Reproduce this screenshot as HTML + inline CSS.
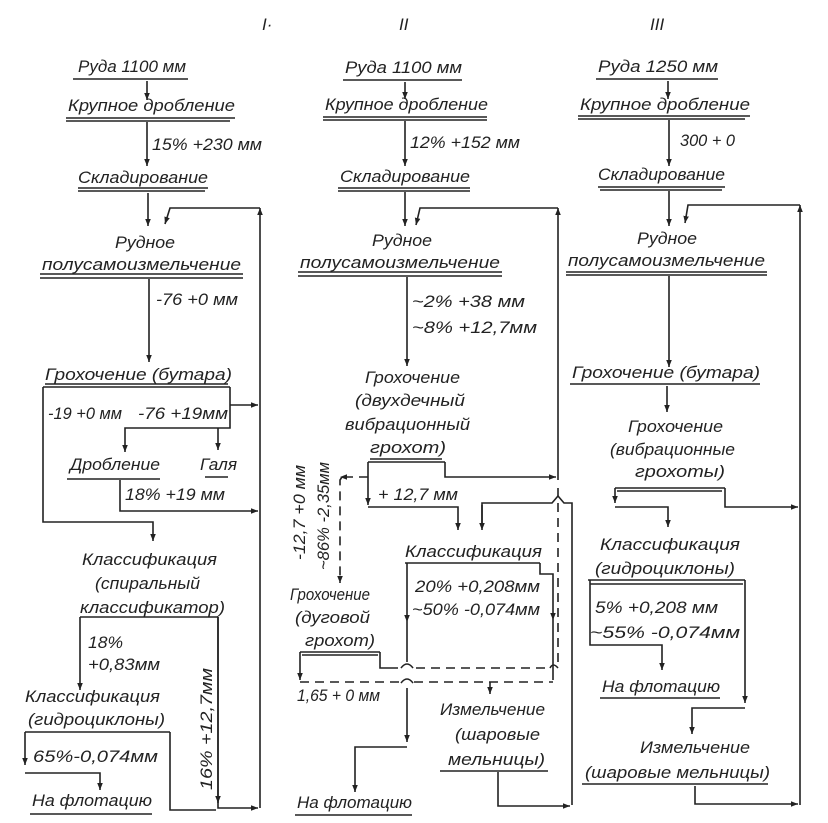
<!DOCTYPE html>
<html><head><meta charset="utf-8"><style>
html,body{margin:0;padding:0;background:#fff;}
svg{display:block}
text{font-family:"Liberation Sans Narrow","Liberation Sans","DejaVu Sans",sans-serif;font-style:italic;font-size:17px;fill:#222;}
line,polyline,path{stroke:#222;stroke-width:1.6;fill:none;}
.d{stroke-dasharray:9,6;}
</style></head><body>
<svg width="828" height="823" viewBox="0 0 828 823" xmlns="http://www.w3.org/2000/svg">
<defs>
<marker id="a" viewBox="0 0 10 10" refX="10" refY="5" markerWidth="7" markerHeight="7" orient="auto-start-reverse" markerUnits="userSpaceOnUse"><path d="M0,1 L10,5 L0,9 Z" style="fill:#222;stroke:none"/></marker>
</defs>

<!-- headers -->
<text x="262" y="30" font-size="20">I·</text>
<text x="399" y="30" font-size="20">II</text>
<text x="650" y="30" font-size="20">III</text>

<!-- ================= COLUMN I ================= -->
<text x="78" y="72" textLength="108" lengthAdjust="spacingAndGlyphs">Руда 1100 мм</text>
<line x1="73" y1="79" x2="188" y2="79"/>
<line x1="147" y1="81" x2="147" y2="100" marker-end="url(#a)"/>
<text x="68" y="111" textLength="167" lengthAdjust="spacingAndGlyphs">Крупное дробление</text>
<line x1="66" y1="118" x2="235" y2="118"/><line x1="66" y1="121" x2="230" y2="121"/>
<line x1="147" y1="122" x2="147" y2="166" marker-end="url(#a)"/>
<text x="152" y="150" textLength="110" lengthAdjust="spacingAndGlyphs">15% +230 мм</text>
<text x="78" y="183" textLength="130" lengthAdjust="spacingAndGlyphs">Складирование</text>
<line x1="78" y1="188" x2="208" y2="188"/><line x1="78" y1="191" x2="205" y2="191"/>
<line x1="148" y1="193" x2="148" y2="226" marker-end="url(#a)"/>
<polyline points="260,808 260,208" marker-end="url(#a)"/>
<polyline points="260,208 170,208 165,224" marker-end="url(#a)"/>
<text x="115" y="248" textLength="60" lengthAdjust="spacingAndGlyphs">Рудное</text>
<text x="42" y="270" textLength="199" lengthAdjust="spacingAndGlyphs">полусамоизмельчение</text>
<line x1="40" y1="274" x2="243" y2="274"/><line x1="40" y1="278" x2="243" y2="278"/>
<line x1="149" y1="279" x2="149" y2="362" marker-end="url(#a)"/>
<text x="156" y="305" textLength="82" lengthAdjust="spacingAndGlyphs">-76 +0 мм</text>
<text x="45" y="380" textLength="187" lengthAdjust="spacingAndGlyphs">Грохочение (бутара)</text>
<line x1="43" y1="387" x2="230" y2="387"/><line x1="45" y1="384" x2="228" y2="384"/>
<line x1="230" y1="405" x2="258" y2="405" marker-end="url(#a)"/>
<text x="48" y="419" textLength="74" lengthAdjust="spacingAndGlyphs">-19 +0 мм</text>
<text x="138" y="419" textLength="90" lengthAdjust="spacingAndGlyphs">-76 +19мм</text>
<polyline points="230,387 230,428 125,428 125,452" marker-end="url(#a)"/>
<line x1="218" y1="428" x2="218" y2="450" marker-end="url(#a)"/>
<text x="70" y="470" textLength="90" lengthAdjust="spacingAndGlyphs">Дробление</text>
<line x1="67" y1="479" x2="160" y2="479"/>
<text x="200" y="470" textLength="37" lengthAdjust="spacingAndGlyphs">Галя</text>
<line x1="205" y1="477" x2="228" y2="477"/>
<polyline points="120,480 120,511 258,511" marker-end="url(#a)"/>
<text x="125" y="500" textLength="100" lengthAdjust="spacingAndGlyphs">18% +19 мм</text>
<polyline points="43,387 43,522 153,522 153,541" marker-end="url(#a)"/>
<text x="82" y="565" textLength="135" lengthAdjust="spacingAndGlyphs">Классификация</text>
<text x="95" y="589" textLength="105" lengthAdjust="spacingAndGlyphs">(спиральный</text>
<text x="80" y="613" textLength="145" lengthAdjust="spacingAndGlyphs">классификатор)</text>
<line x1="80" y1="617" x2="218" y2="617"/>
<polyline points="218,617 218,808 258,808" marker-end="url(#a)"/>
<line x1="218" y1="617" x2="218" y2="803" marker-end="url(#a)"/>
<text transform="translate(212,790) rotate(-90)" textLength="122" lengthAdjust="spacingAndGlyphs">16% +12,7мм</text>
<line x1="80" y1="617" x2="80" y2="690" marker-end="url(#a)"/>
<text x="88" y="648" textLength="35" lengthAdjust="spacingAndGlyphs">18%</text>
<text x="88" y="670" textLength="72" lengthAdjust="spacingAndGlyphs">+0,83мм</text>
<text x="25" y="702" textLength="135" lengthAdjust="spacingAndGlyphs">Классификация</text>
<text x="28" y="725" textLength="137" lengthAdjust="spacingAndGlyphs">(гидроциклоны)</text>
<line x1="25" y1="732" x2="170" y2="732"/>
<line x1="25" y1="732" x2="25" y2="765" marker-end="url(#a)"/>
<polyline points="25,773 100,773 100,790" marker-end="url(#a)"/>
<text x="33" y="762" textLength="125" lengthAdjust="spacingAndGlyphs">65%-0,074мм</text>
<polyline points="170,732 170,810 216,810"/>
<text x="32" y="806" textLength="120" lengthAdjust="spacingAndGlyphs">На флотацию</text>
<line x1="30" y1="814" x2="152" y2="814"/>

<!-- ================= COLUMN II ================= -->
<text x="345" y="73" textLength="117" lengthAdjust="spacingAndGlyphs">Руда 1100 мм</text>
<line x1="343" y1="80" x2="462" y2="80"/>
<line x1="405" y1="82" x2="405" y2="99" marker-end="url(#a)"/>
<text x="325" y="110" textLength="163" lengthAdjust="spacingAndGlyphs">Крупное дробление</text>
<line x1="323" y1="117" x2="487" y2="117"/><line x1="323" y1="120" x2="487" y2="120"/>
<line x1="405" y1="121" x2="405" y2="166" marker-end="url(#a)"/>
<text x="410" y="148" textLength="110" lengthAdjust="spacingAndGlyphs">12% +152 мм</text>
<text x="340" y="182" textLength="130" lengthAdjust="spacingAndGlyphs">Складирование</text>
<line x1="338" y1="188" x2="470" y2="188"/><line x1="338" y1="191" x2="470" y2="191"/>
<line x1="405" y1="192" x2="405" y2="226" marker-end="url(#a)"/>
<line x1="558" y1="480" x2="558" y2="208" marker-end="url(#a)"/>
<polyline points="558,208 420,208 416,225" marker-end="url(#a)"/>
<text x="372" y="246" textLength="60" lengthAdjust="spacingAndGlyphs">Рудное</text>
<text x="300" y="268" textLength="200" lengthAdjust="spacingAndGlyphs">полусамоизмельчение</text>
<line x1="298" y1="272" x2="502" y2="272"/><line x1="298" y1="276" x2="502" y2="276"/>
<line x1="407" y1="277" x2="407" y2="366" marker-end="url(#a)"/>
<text x="412" y="307" textLength="113" lengthAdjust="spacingAndGlyphs">~2% +38 мм</text>
<text x="412" y="333" textLength="125" lengthAdjust="spacingAndGlyphs">~8% +12,7мм</text>
<text x="365" y="383" textLength="95" lengthAdjust="spacingAndGlyphs">Грохочение</text>
<text x="355" y="406" textLength="110" lengthAdjust="spacingAndGlyphs">(двухдечный</text>
<text x="345" y="430" textLength="125" lengthAdjust="spacingAndGlyphs">вибрационный</text>
<text x="370" y="453" textLength="76" lengthAdjust="spacingAndGlyphs">грохот)</text>
<line x1="368" y1="462" x2="445" y2="462"/><line x1="370" y1="459" x2="442" y2="459"/>
<polyline points="445,462 445,477 556,477" marker-end="url(#a)"/>
<line x1="368" y1="462" x2="368" y2="505" marker-end="url(#a)"/>
<polyline points="368,507 458,507 458,530" marker-end="url(#a)"/>
<text x="378" y="500" textLength="80" lengthAdjust="spacingAndGlyphs">+ 12,7 мм</text>
<line class="d" x1="368" y1="477" x2="340" y2="477" marker-end="url(#a)"/>
<polyline class="d" points="342,477 340,480 340,583" marker-end="url(#a)"/>
<text transform="translate(305,560) rotate(-90)" textLength="95" lengthAdjust="spacingAndGlyphs">-12,7 +0 мм</text>
<text transform="translate(329,570) rotate(-90)" textLength="108" lengthAdjust="spacingAndGlyphs">~86% -2,35мм</text>
<!-- right loop -->
<polyline points="482,528 482,503 552,503 558,496 564,503 572,503 572,805"/>
<line x1="482" y1="505" x2="482" y2="530" marker-end="url(#a)"/>
<line class="d" x1="558" y1="488" x2="558" y2="668"/>
<text x="405" y="557" textLength="137" lengthAdjust="spacingAndGlyphs">Классификация</text>
<line x1="405" y1="563" x2="540" y2="563"/>
<polyline points="540,563 540,574 553,574 553,620" marker-end="url(#a)"/>
<polyline points="553,620 553,680"/>
<text x="415" y="592" textLength="125" lengthAdjust="spacingAndGlyphs">20% +0,208мм</text>
<text x="412" y="615" textLength="128" lengthAdjust="spacingAndGlyphs">~50% -0,074мм</text>
<line x1="407" y1="563" x2="407" y2="622" marker-end="url(#a)"/>
<line x1="407" y1="622" x2="407" y2="662"/>
<path d="M401,668 Q407,660 413,668"/>
<path d="M401,683 Q407,675 413,683"/>
<line x1="407" y1="688" x2="407" y2="742" marker-end="url(#a)"/>
<polyline points="407,747 355,747 355,792" marker-end="url(#a)"/>
<text x="290" y="600" textLength="80" lengthAdjust="spacingAndGlyphs">Грохочение</text>
<text x="295" y="623" textLength="75" lengthAdjust="spacingAndGlyphs">(дуговой</text>
<text x="305" y="646" textLength="70" lengthAdjust="spacingAndGlyphs">грохот)</text>
<line x1="300" y1="652" x2="380" y2="652"/><line x1="302" y1="655" x2="378" y2="655"/>
<polyline points="380,652 380,668 398,668"/>
<line class="d" x1="416" y1="668" x2="550" y2="668"/>
<path d="M550,668 Q553,662 558,668"/>
<line x1="300" y1="652" x2="300" y2="680" marker-end="url(#a)"/>
<line class="d" x1="300" y1="682" x2="400" y2="682"/>
<line class="d" x1="414" y1="682" x2="553" y2="682"/>
<line x1="490" y1="682" x2="490" y2="694" marker-end="url(#a)"/>
<text x="297" y="701" textLength="83" lengthAdjust="spacingAndGlyphs">1,65 + 0 мм</text>
<text x="440" y="715" textLength="105" lengthAdjust="spacingAndGlyphs">Измельчение</text>
<text x="455" y="740" textLength="85" lengthAdjust="spacingAndGlyphs">(шаровые</text>
<text x="448" y="765" textLength="97" lengthAdjust="spacingAndGlyphs">мельницы)</text>
<line x1="440" y1="771" x2="548" y2="771"/>
<polyline points="498,772 498,806 570,806" marker-end="url(#a)"/>
<text x="297" y="808" textLength="115" lengthAdjust="spacingAndGlyphs">На флотацию</text>
<line x1="295" y1="815" x2="412" y2="815"/>

<!-- ================= COLUMN III ================= -->
<text x="598" y="72" textLength="120" lengthAdjust="spacingAndGlyphs">Руда 1250 мм</text>
<line x1="596" y1="79" x2="718" y2="79"/>
<line x1="668" y1="81" x2="668" y2="99" marker-end="url(#a)"/>
<text x="580" y="110" textLength="170" lengthAdjust="spacingAndGlyphs">Крупное дробление</text>
<line x1="578" y1="116" x2="750" y2="116"/><line x1="578" y1="119" x2="745" y2="119"/>
<line x1="669" y1="120" x2="669" y2="166" marker-end="url(#a)"/>
<text x="680" y="146" textLength="55" lengthAdjust="spacingAndGlyphs">300 + 0</text>
<text x="598" y="180" textLength="127" lengthAdjust="spacingAndGlyphs">Складирование</text>
<line x1="598" y1="187" x2="725" y2="187"/><line x1="600" y1="190" x2="722" y2="190"/>
<line x1="669" y1="191" x2="669" y2="226" marker-end="url(#a)"/>
<line x1="800" y1="805" x2="800" y2="205" marker-end="url(#a)"/>
<polyline points="800,205 688,205 685,223" marker-end="url(#a)"/>
<text x="637" y="244" textLength="60" lengthAdjust="spacingAndGlyphs">Рудное</text>
<text x="568" y="266" textLength="197" lengthAdjust="spacingAndGlyphs">полусамоизмельчение</text>
<line x1="566" y1="272" x2="767" y2="272"/><line x1="566" y1="275" x2="767" y2="275"/>
<line x1="669" y1="276" x2="669" y2="367" marker-end="url(#a)"/>
<text x="572" y="378" textLength="188" lengthAdjust="spacingAndGlyphs">Грохочение (бутара)</text>
<line x1="570" y1="384" x2="760" y2="384"/>
<line x1="667" y1="386" x2="667" y2="412" marker-end="url(#a)"/>
<text x="628" y="432" textLength="95" lengthAdjust="spacingAndGlyphs">Грохочение</text>
<text x="610" y="455" textLength="125" lengthAdjust="spacingAndGlyphs">(вибрационные</text>
<text x="635" y="477" textLength="90" lengthAdjust="spacingAndGlyphs">грохоты)</text>
<line x1="615" y1="488" x2="725" y2="488"/><line x1="617" y1="491" x2="722" y2="491"/>
<line x1="615" y1="488" x2="615" y2="503" marker-end="url(#a)"/>
<polyline points="615,507 668,507 668,527" marker-end="url(#a)"/>
<polyline points="725,488 725,507 798,507" marker-end="url(#a)"/>
<text x="600" y="550" textLength="140" lengthAdjust="spacingAndGlyphs">Классификация</text>
<text x="595" y="574" textLength="140" lengthAdjust="spacingAndGlyphs">(гидроциклоны)</text>
<line x1="588" y1="580" x2="745" y2="580"/><line x1="590" y1="584" x2="743" y2="584"/>
<polyline points="590,580 590,645 662,645 662,670" marker-end="url(#a)"/>
<text x="595" y="613" textLength="123" lengthAdjust="spacingAndGlyphs">5% +0,208 мм</text>
<text x="590" y="638" textLength="150" lengthAdjust="spacingAndGlyphs">~55% -0,074мм</text>
<polyline points="745,580 745,703" marker-end="url(#a)"/>
<polyline points="745,708 692,708 692,734" marker-end="url(#a)"/>
<text x="602" y="692" textLength="118" lengthAdjust="spacingAndGlyphs">На флотацию</text>
<line x1="600" y1="698" x2="720" y2="698"/>
<text x="640" y="753" textLength="110" lengthAdjust="spacingAndGlyphs">Измельчение</text>
<text x="585" y="778" textLength="185" lengthAdjust="spacingAndGlyphs">(шаровые мельницы)</text>
<line x1="582" y1="784" x2="768" y2="784"/>
<polyline points="695,786 695,804 798,804" marker-end="url(#a)"/>
</svg>
</body></html>
